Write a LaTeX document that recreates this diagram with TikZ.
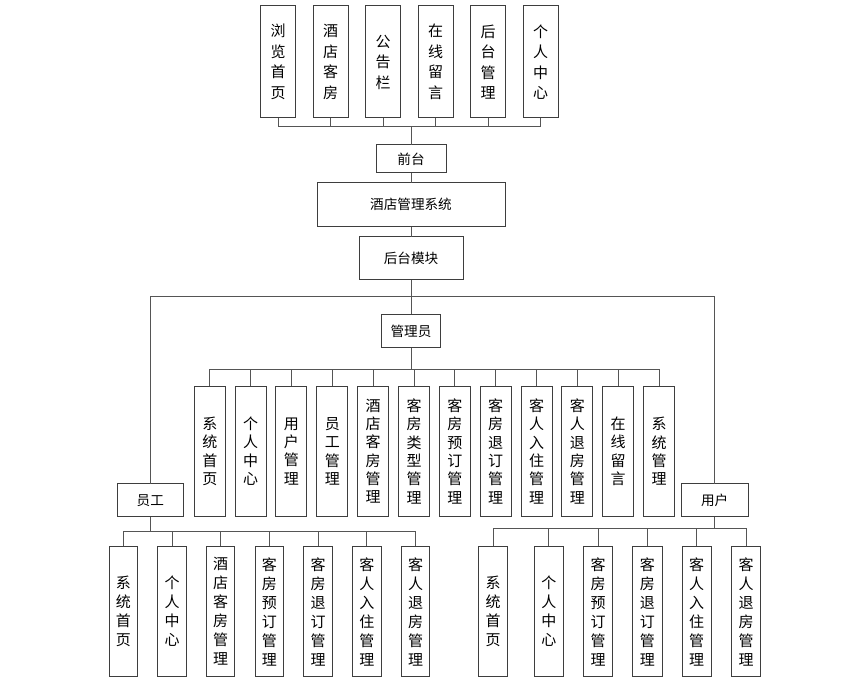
\documentclass[tikz,border=0pt]{standalone}
\usepackage{fontspec}
\newfontfamily\cjk{Noto Sans CJK SC}
\usetikzlibrary{positioning}
\definecolor{boxline}{RGB}{62,62,62}
\definecolor{linegray}{RGB}{85,85,85}
\tikzset{
  hbox/.style={rectangle, draw=boxline, line width=1pt, align=center,
    inner sep=0pt, outer sep=0pt, font=\cjk\fontsize{13.6}{16}\selectfont},
  topbox/.style={rectangle, draw=boxline, line width=1pt, align=center,
    minimum width=35pt, minimum height=112pt, inner sep=0pt, outer sep=0pt,
    font=\cjk\fontsize{15}{20.5}\selectfont},
  adminbox/.style={rectangle, draw=boxline, line width=1pt, align=center,
    minimum width=31pt, minimum height=130.5pt, inner sep=0pt, outer sep=0pt,
    font=\cjk\fontsize{15}{18.3}\selectfont},
  userbox/.style={rectangle, draw=boxline, line width=1pt, align=center,
    minimum height=130.5pt, inner sep=0pt, outer sep=0pt,
    font=\cjk\fontsize{15}{19}\selectfont},
  wire/.style={draw=linegray, line width=0.9pt}
}

\begin{document}
\begin{tikzpicture}[x=1pt, y=-1pt]
  \useasboundingbox (0,0) rectangle (860,684);

  % front-end pages
  \node [topbox] (llsy) at (278,62) {浏\\览\\首\\页};
  \node [topbox, right=17.5pt of llsy] (jdkf) {酒\\店\\客\\房};
  \node [topbox, right=17.5pt of jdkf] (ggl) {公\\告\\栏};
  \node [topbox, right=17.5pt of ggl] (zxly) {在\\线\\留\\言};
  \node [topbox, right=17.5pt of zxly] (htgl) {后\\台\\管\\理};
  \node [topbox, right=17.5pt of htgl] (grzx) {个\\人\\中\\心};

  % main chain
  \node [hbox, minimum width=70pt, minimum height=27.7pt] (qt) at (411,158.8) {前台};
  \node [hbox, minimum width=188pt, minimum height=44pt, below=10pt of qt] (sys) {酒店管理系统};
  \node [hbox, minimum width=104pt, minimum height=43.3pt, below=10pt of sys] (htmk) {后台模块};
  \node [hbox, minimum width=59pt, minimum height=33.4pt, below=34.3pt of htmk] (gly) {管理员};
  \node [hbox, minimum width=66pt, minimum height=32.7pt] (yg) at (150.3,500.3) {员工};
  \node [hbox, minimum width=67pt, minimum height=32.7pt] (yh) at (714.7,500.3) {用户};

  % admin functions
  \node [adminbox] (a1) at (209.8,451.3) {系\\统\\首\\页};
  \node [adminbox, right=9.84pt of a1] (a2) {个\\人\\中\\心};
  \node [adminbox, right=9.84pt of a2] (a3) {用\\户\\管\\理};
  \node [adminbox, right=9.84pt of a3] (a4) {员\\工\\管\\理};
  \node [adminbox, right=9.84pt of a4] (a5) {酒\\店\\客\\房\\管\\理};
  \node [adminbox, right=9.84pt of a5] (a6) {客\\房\\类\\型\\管\\理};
  \node [adminbox, right=9.84pt of a6] (a7) {客\\房\\预\\订\\管\\理};
  \node [adminbox, right=9.84pt of a7] (a8) {客\\房\\退\\订\\管\\理};
  \node [adminbox, right=9.84pt of a8] (a9) {客\\人\\入\\住\\管\\理};
  \node [adminbox, right=9.84pt of a9] (a10) {客\\人\\退\\房\\管\\理};
  \node [adminbox, right=9.84pt of a10] (a11) {在\\线\\留\\言};
  \node [adminbox, right=9.84pt of a11] (a12) {系\\统\\管\\理};

  % staff functions
  \node [userbox, minimum width=28.5pt] (e1) at (123.3,611.5) {系\\统\\首\\页};
  \node [userbox, minimum width=28.5pt, right=20.2pt of e1] (e2) {个\\人\\中\\心};
  \node [userbox, minimum width=28.5pt, right=20.2pt of e2] (e3) {酒\\店\\客\\房\\管\\理};
  \node [userbox, minimum width=28.5pt, right=20.2pt of e3] (e4) {客\\房\\预\\订\\管\\理};
  \node [userbox, minimum width=28.5pt, right=20.2pt of e4] (e5) {客\\房\\退\\订\\管\\理};
  \node [userbox, minimum width=28.5pt, right=20.2pt of e5] (e6) {客\\人\\入\\住\\管\\理};
  \node [userbox, minimum width=28.5pt, right=20.2pt of e6] (e7) {客\\人\\退\\房\\管\\理};

  % customer functions
  \node [userbox, minimum width=29.4pt] (u1) at (493,611.5) {系\\统\\首\\页};
  \node [userbox, minimum width=29.4pt, right=26.4pt of u1] (u2) {个\\人\\中\\心};
  \node [userbox, minimum width=29.4pt, right=19.9pt of u2] (u3) {客\\房\\预\\订\\管\\理};
  \node [userbox, minimum width=29.4pt, right=19.9pt of u3] (u4) {客\\房\\退\\订\\管\\理};
  \node [userbox, minimum width=29.4pt, right=19.9pt of u4] (u5) {客\\人\\入\\住\\管\\理};
  \node [userbox, minimum width=29.4pt, right=19.9pt of u5] (u6) {客\\人\\退\\房\\管\\理};

  % bus points
  \coordinate (topbus) at (411,126.7);
  \coordinate (split) at (411,296);
  \coordinate (abus) at (411,369.5);
  \coordinate (ebus) at (150.3,531.5);
  \coordinate (ubus) at (714.7,528.7);

  \foreach \b in {llsy,jdkf,ggl,zxly,htgl,grzx}
    \draw [wire] (\b.south) |- (topbus);
  \draw [wire] (topbus) -- (qt);
  \draw [wire] (qt) -- (sys);
  \draw [wire] (sys) -- (htmk);
  \draw [wire] (htmk) -- (split);
  \draw [wire] (yg.north) |- (split);
  \draw [wire] (yh.north) |- (split);
  \draw [wire] (split) -- (gly);

  \draw [wire] (gly) -- (abus);
  \foreach \b in {a1,a2,a3,a4,a5,a6,a7,a8,a9,a10,a11,a12}
    \draw [wire] (\b.north) |- (abus);

  \draw [wire] (yg) -- (ebus);
  \foreach \b in {e1,e2,e3,e4,e5,e6,e7}
    \draw [wire] (\b.north) |- (ebus);

  \draw [wire] (yh) -- (ubus);
  \foreach \b in {u1,u2,u3,u4,u5,u6}
    \draw [wire] (\b.north) |- (ubus);
\end{tikzpicture}
\end{document}
